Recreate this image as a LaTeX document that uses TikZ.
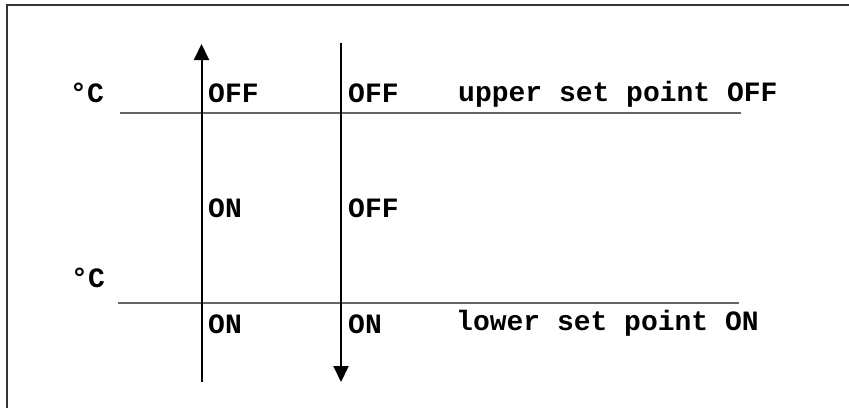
\documentclass[tikz,border=0pt]{standalone}
\usepackage{fontspec}
\setmonofont{Liberation Mono}
\usetikzlibrary{arrows.meta}
\tikzset{
  lbl/.style={anchor=base west, inner sep=0pt, font=\ttfamily\bfseries\fontsize{28}{30}\selectfont},
  setline/.style={draw=black!60, line width=1.5pt},
  flow/.style={draw=black, line width=2pt, -{Triangle[width=15pt,length=16pt]}},
  frame/.style={draw=black!80, line width=2pt}
}
\begin{document}
\begin{tikzpicture}[x=1pt,y=-1pt]
  \useasboundingbox (0,0) rectangle (849,408);
  % open frame: left and top edges
  \coordinate (fbl) at (7,408);
  \coordinate (ftl) at (7,5);
  \coordinate (ftr) at (849,5);
  \draw[frame] (fbl) -- (ftl) -- (ftr);

  % set point lines
  \coordinate (u1) at (120,113);
  \coordinate (u2) at (741,113);
  \coordinate (l1) at (118,303);
  \coordinate (l2) at (739,303);
  \draw[setline] (u1) -- (u2);
  \draw[setline] (l1) -- (l2);

  % rising and falling temperature arrows
  \coordinate (ub) at (201.5,382);
  \coordinate (ut) at (201.5,44);
  \coordinate (dt) at (341,43);
  \coordinate (db) at (341,382);
  \draw[flow] (ub) -- (ut);
  \draw[flow] (dt) -- (db);

  % labels
  \node[lbl] (cu) at (70,102) {°C};
  \node[lbl] (cl) at (71,287) {°C};
  \node[lbl] (a1) at (208,102) {OFF};
  \node[lbl] (b1) at (348,102) {OFF};
  \node[lbl] (up) at (458,101) {upper set point OFF};
  \node[lbl] (a2) at (208,217) {ON};
  \node[lbl] (b2) at (348,217) {OFF};
  \node[lbl] (a3) at (208,333) {ON};
  \node[lbl] (b3) at (348,333) {ON};
  \node[lbl] (lo) at (456,330) {lower set point ON};
\end{tikzpicture}
\end{document}
